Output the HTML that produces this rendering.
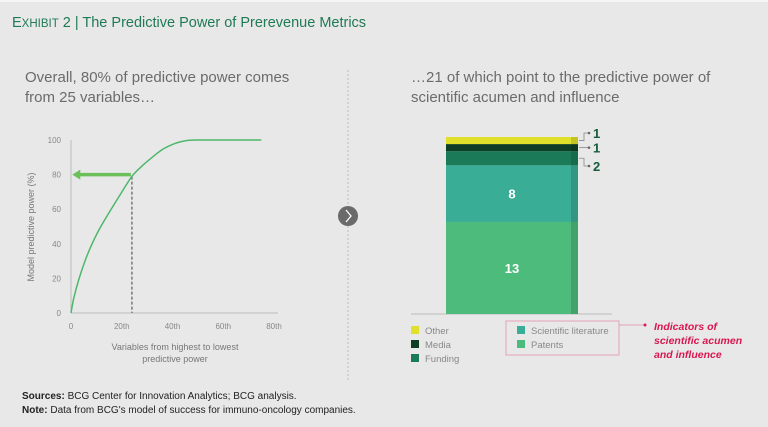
<!DOCTYPE html>
<html><head><meta charset="utf-8"><style>
html,body{margin:0;padding:0;background:#e8e8e9;}
svg{display:block;font-family:"Liberation Sans",sans-serif;}
</style></head><body>
<svg id="chart" width="768" height="427" viewBox="0 0 768 427" xmlns="http://www.w3.org/2000/svg">
<rect x="0" y="0" width="768" height="427" fill="#e8e8e9"/>
<rect x="0" y="0" width="768" height="2" fill="#f6f6f6"/>
<text x="12" y="27" font-size="14.5" fill="#1f7a55"><tspan>E</tspan><tspan font-size="11.5">XHIBIT</tspan> 2 | The Predictive Power of Prerevenue Metrics</text>
<text x="25" y="82" font-size="15" fill="#6b6b6b">Overall, 80% of predictive power comes</text>
<text x="25" y="102" font-size="15" fill="#6b6b6b">from 25 variables…</text>
<text x="411" y="82" font-size="15" fill="#6b6b6b">…21 of which point to the predictive power of</text>
<text x="411" y="102" font-size="15" fill="#6b6b6b">scientific acumen and influence</text>
<line x1="348" y1="70" x2="348" y2="380" stroke="#bdbdbd" stroke-dasharray="2,2"/>
<circle cx="348" cy="216" r="10" fill="#6a6a6a"/>
<path d="M346 210 L351 216 L346 222" stroke="#fff" stroke-width="1.3" fill="none"/>
<g id="left"></g>
<g id="right"></g>
<text transform="translate(34,227) rotate(-90)" text-anchor="middle" font-size="9" fill="#777">Model predictive power (%)</text>
<text x="175" y="350" text-anchor="middle" font-size="9" fill="#777">Variables from highest to lowest</text>
<text x="175" y="362" text-anchor="middle" font-size="9" fill="#777">predictive power</text>
<text x="22" y="399" font-size="10" fill="#222"><tspan font-weight="bold">Sources:</tspan> BCG Center for Innovation Analytics; BCG analysis.</text>
<text x="22" y="413" font-size="10" fill="#222"><tspan font-weight="bold">Note:</tspan> Data from BCG's model of success for immuno-oncology companies.</text>
</svg>
<script>
const curveX=[0,1,3,5.5,8,11,15,19,24,28,32,36,41,45,49,75];
const curveY=[0,8,19,30,39,48,58,67.5,79,85,90,94.5,98,99.5,100,100];
const xTicks=[0,20,40,60,80];
const xTickLabels=["0","20th","40th","60th","80th"];
const yTicks=[0,20,40,60,80,100];
const cutoffX=24, cutoffY=80;
const segNames=["Patents","Scientific literature","Funding","Media","Other"];
const segValues=[13,8,2,1,1];
const segColors=["#4dbb7c","#3aad96","#1b7a57","#0e3f26","#e0e02a"];
const NS="http://www.w3.org/2000/svg";
function mk(tag,attrs,parent,txt){const e=document.createElementNS(NS,tag);for(const k in attrs)e.setAttribute(k,attrs[k]);if(txt!==undefined)e.textContent=txt;parent.appendChild(e);return e;}
const sx=v=>71+v*2.5375, sy=v=>313-v*1.73;
const L=document.getElementById('left');
let a=mk('line',{x1:71,y1:140,x2:71,y2:313,stroke:'#bbb'},L);

a=mk('line',{x1:71,y1:313,x2:278,y2:313,stroke:'#bbb'},L);

yTicks.forEach(v=>{const t=mk('text',{x:61,y:sy(v)+3,'text-anchor':'end','font-size':8,fill:'#888'},L,String(v));
});
xTicks.forEach((v,i)=>{const t=mk('text',{x:sx(v),y:329,'text-anchor':'middle','font-size':8,fill:'#888'},L,xTickLabels[i]);
});
const d=mk('line',{x1:sx(cutoffX),y1:sy(cutoffY)+2,x2:sx(cutoffX),y2:313,stroke:'#777','stroke-dasharray':'3,2','stroke-width':1.5},L);

const ar=mk('line',{x1:sx(2.5),y1:sy(cutoffY),x2:sx(cutoffX)-1,y2:sy(cutoffY),stroke:'#6cc05a','stroke-width':3.5},L);

const ah=mk('path',{d:`M${sx(0.5)} ${sy(cutoffY)} l8 -5 l0 10 z`,fill:'#6cc05a'},L);

const pts=curveX.map((x,i)=>[sx(x),sy(curveY[i])]);
let dp=`M${pts[0][0]} ${pts[0][1]}`;
for(let i=0;i<pts.length-1;i++){const p0=pts[Math.max(0,i-1)],p1=pts[i],p2=pts[i+1],p3=pts[Math.min(pts.length-1,i+2)];
const t=0.12;
dp+=` C${p1[0]+(p2[0]-p0[0])*t} ${p1[1]+(p2[1]-p0[1])*t} ${p2[0]-(p3[0]-p1[0])*t} ${p2[1]-(p3[1]-p1[1])*t} ${p2[0]} ${p2[1]}`;}
const pl=mk('path',{d:dp,fill:'none',stroke:'#4db86a','stroke-width':1.5},L);


const R=document.getElementById('right');
const base=314, unit=7.08, bx=446, bw=132;
let bl=mk('line',{x1:411,y1:base,x2:612,y2:base,stroke:'#bbb'},R);

let cum=0; const tops=[];
segValues.forEach((v,i)=>{const y=base-(cum+v)*unit;
const r=mk('rect',{x:bx,y:y,width:bw,height:v*unit,fill:segColors[i]},R);

tops.push([y,v*unit]);cum+=v;});
const sh=mk('rect',{x:bx+bw-7,y:base-cum*unit,width:7,height:cum*unit,fill:'rgba(0,0,0,0.13)'},R);

[0,1].forEach(i=>{const t=mk('text',{x:bx+bw/2,y:tops[i][0]+tops[i][1]/2+5,'text-anchor':'middle','font-size':13,'font-weight':'bold',fill:'#fff'},R,String(segValues[i]));
});
const outY=[133,148,166];
[4,3,2].forEach((i,k)=>{const my=tops[i][0]+tops[i][1]/2;const ly=outY[k];
const p=mk('path',{d:k===1?`M579 ${my} L588 ${my}`:`M579 ${my} L584 ${my} L584 ${ly} L588 ${ly}`,stroke:'#888',fill:'none','stroke-width':0.8},R);

const c=mk('circle',{cx:589,cy:k===1?my:ly,r:1.3,fill:'#666'},R);

const t=mk('text',{x:593,y:(k===1?my:ly)+5,'font-size':13,'font-weight':'bold',fill:'#145c3c'},R,String(segValues[i]));
});
const leg=[[4,411,333],[3,411,347],[2,411,361],[1,517,333],[0,517,347]];
leg.forEach(([i,x,y])=>{const s=mk('rect',{x:x,y:y-7,width:8,height:8,fill:segColors[i]},R);

const t=mk('text',{x:x+14,y:y+1,'font-size':9.5,fill:'#888'},R,segNames[i]);
});
const bxx=mk('rect',{x:506,y:321,width:113,height:34,fill:'none',stroke:'#e3a3b3'},R);

const il=mk('line',{x1:619,y1:325,x2:643,y2:325,stroke:'#e3a3b3'},R);

const idot=mk('circle',{cx:645,cy:325,r:1.5,fill:'#d8174f'},R);

["Indicators of","scientific acumen","and influence"].forEach((s,i)=>{const t=mk('text',{x:654,y:330+i*14,'font-size':10.5,'font-weight':'bold','font-style':'italic',fill:'#d8174f'},R,s);
});
</script>
</body></html>
